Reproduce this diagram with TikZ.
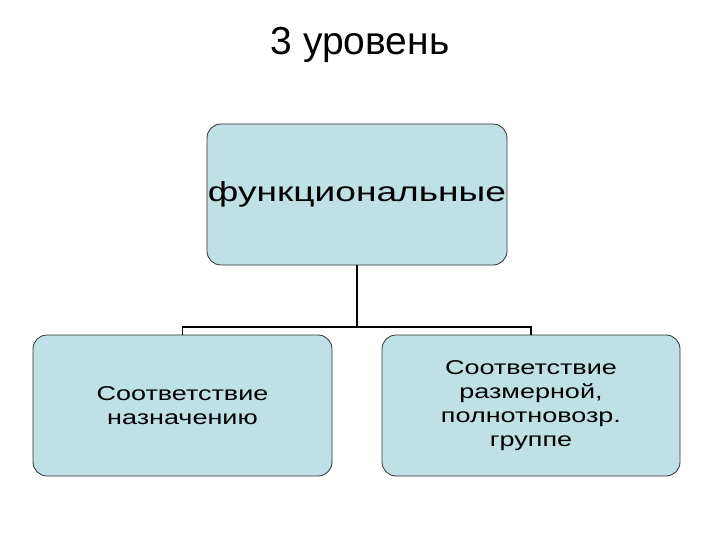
\documentclass[tikz,border=0pt]{standalone}
\usepackage{fontspec}
\setmainfont{Liberation Sans}
\newfontfamily\widefont[FakeStretch=1.35]{Liberation Sans}
\definecolor{boxfill}{HTML}{BFE0E4}
\begin{document}
\begin{tikzpicture}[x=1pt,y=-1pt,
  box/.style={draw=black!80,line width=0.8pt,fill=boxfill,rounded corners=14pt,minimum width=300pt,minimum height=141pt,inner sep=0pt,align=center},
  small/.style={font=\widefont\fontsize{20}{24}\selectfont},
  conn/.style={line width=1.2pt,black}]
\useasboundingbox (0,0) rectangle (720,540);
\node[font=\fontsize{39}{44}\selectfont] (title) at (360,45) {3 уровень};
\node[box,font=\widefont\fontsize{27.5}{32}\selectfont] (top) at (357,194.5) {функциональные};
\node[box,small,minimum width=299pt] (left) at (182.5,405.5) {Соответствие\\назначению};
\node[box,small,minimum width=298pt] (right) at (531,405.5) {Соответствие\\размерной,\\полнотновозр.\\группе};
\coordinate (j) at (357,327);
\draw[conn] (top.south) -- (j);
\draw[conn] (left.north) -- (left.north |- j) -- (right.north |- j) -- (right.north);
\end{tikzpicture}
\end{document}
